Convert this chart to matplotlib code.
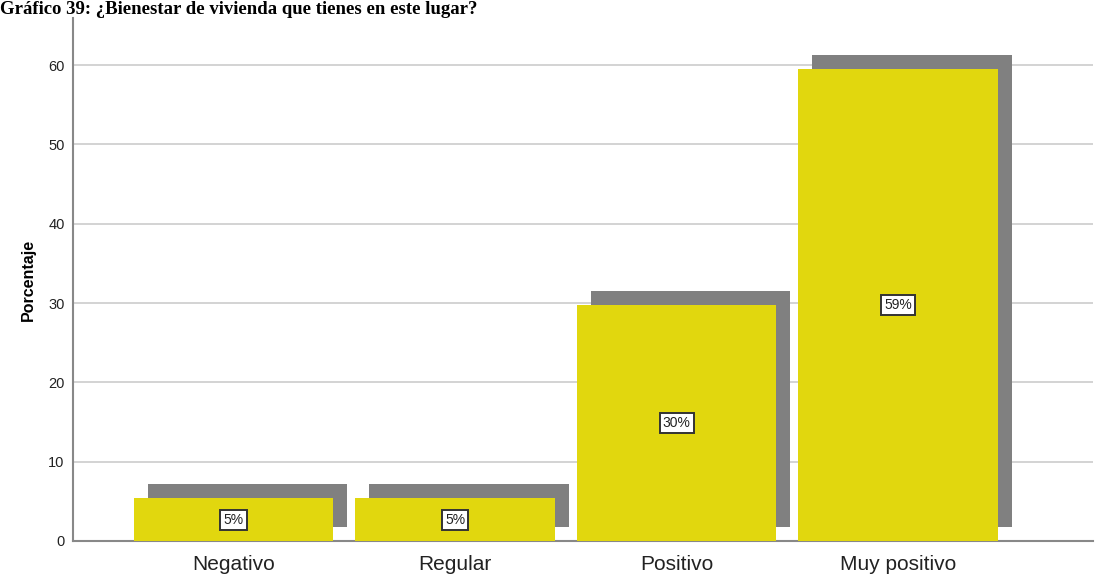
import matplotlib
matplotlib.use("Agg")
import matplotlib.pyplot as plt
from matplotlib.transforms import ScaledTranslation

categories = ["Negativo", "Regular", "Positivo", "Muy positivo"]
values = [5.4, 5.4, 29.7, 59.5]
labels = ["5%", "5%", "30%", "59%"]
yticks = [0, 10, 20, 30, 40, 50, 60]
title = "Gráfico 39: ¿Bienestar de vivienda que tienes en este lugar?"

DPI = 100
fig = plt.figure(figsize=(10.96, 5.74), dpi=DPI)
ax = fig.add_axes([73 / 1096, 1 - 541 / 574, 1020 / 1096, 523 / 574])

x = list(range(len(categories)))
width = 0.9
shadow_tr = ax.transData + ScaledTranslation(14 / DPI, 14 / DPI, fig.dpi_scale_trans)
ax.bar(x, values, width=width, color="#808080", transform=shadow_tr, zorder=2)
bars = ax.bar(x, values, width=width, color="#E1D70E", zorder=3)

for xi, v, lab in zip(x, values, labels):
    ax.text(xi, v / 2, lab, ha="center", va="center", fontsize=10,
            family="Liberation Sans", color="#222222", zorder=4,
            bbox=dict(boxstyle="square,pad=0.22", fc="white", ec="#333333", lw=1.4))

ax.set_xlim(-0.725, 3.88)
ax.set_ylim(0, 65.95)
ax.set_yticks(yticks)
ax.set_yticklabels([str(t) for t in yticks], family="Liberation Sans", fontsize=10.5, color="#222222")
ax.set_xticks(x)
ax.set_xticklabels(categories, family="Liberation Sans", fontsize=15, color="#222222")
ax.tick_params(axis="both", length=0)
ax.tick_params(axis="y", pad=6)
ax.tick_params(axis="x", pad=10)
ax.yaxis.grid(True, color="#cccccc", lw=1.2, zorder=0)
ax.set_axisbelow(True)
for s in ["top", "right"]:
    ax.spines[s].set_visible(False)
for s in ["left", "bottom"]:
    ax.spines[s].set_color("#888888")
    ax.spines[s].set_linewidth(1.5)

ax.set_ylabel("Porcentaje", family="Liberation Sans", fontweight="bold", fontsize=11.5, labelpad=9)

fig.text(0.0, 1 - 14 / 574, title, family="Liberation Serif", fontweight="bold",
         fontsize=13.5, ha="left", va="baseline", color="black")

fig.savefig("out.png", dpi=DPI)
